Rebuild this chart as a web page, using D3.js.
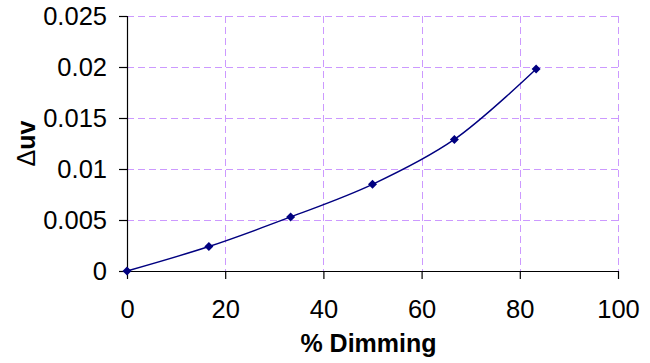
<!DOCTYPE html>
<html>
<head>
<meta charset="utf-8">
<script src="https://cdn.jsdelivr.net/npm/d3@7"></script>
<style>
  html, body { margin: 0; padding: 0; background: #fff; }
  svg { display: block; font-family: Arial, "Liberation Sans", sans-serif; }
</style>
</head>
<body>
<svg id="chart" width="650" height="363"></svg>
<script>
// Colour shift (Δuv) against dimming level
const dimming = [0, 16.67, 33.33, 50, 66.67, 83.33];
const deltaUv = [0, 0.0024, 0.0053, 0.0085, 0.0129, 0.0198];
const xTicks = [0, 20, 40, 60, 80, 100];
const yTicks = [0, 0.005, 0.01, 0.015, 0.02, 0.025];
const yTickLabels = ["0", "0.005", "0.01", "0.015", "0.02", "0.025"];

const svg = d3.select("#chart");
const plotLeft = 127, plotRight = 618, plotTop = 16, plotBottom = 271;

const x = d3.scaleLinear().domain([0, 100]).range([plotLeft, plotRight]);
const y = d3.scaleLinear().domain([0, 0.025]).range([plotBottom, plotTop]);

// dashed gridlines
const grid = svg.append("g")
  .attr("stroke", "#cc99ff")
  .attr("stroke-width", 1)
  .attr("stroke-dasharray", "7,4")
  .attr("fill", "none");
grid.selectAll(".h").data(yTicks.filter(d => d > 0)).enter().append("line")
  .attr("x1", plotLeft).attr("x2", plotRight)
  .attr("y1", d => Math.round(y(d)) + 0.5).attr("y2", d => Math.round(y(d)) + 0.5);
grid.selectAll(".v").data(xTicks.filter(d => d > 0)).enter().append("line")
  .attr("y1", plotTop).attr("y2", plotBottom)
  .attr("x1", d => Math.round(x(d)) + 0.5).attr("x2", d => Math.round(x(d)) + 0.5);

// axes
const xAxis = d3.axisBottom(x).tickValues(xTicks).tickSize(8).tickPadding(21)
  .tickFormat(d3.format("d"));
const yAxis = d3.axisLeft(y).tickValues(yTicks).tickSize(8).tickPadding(12)
  .tickFormat((d, i) => yTickLabels[i]);

const gx = svg.append("g").attr("transform", `translate(0,${plotBottom})`).call(xAxis);
const gy = svg.append("g").attr("transform", `translate(${plotLeft},0)`).call(yAxis);

[gx, gy].forEach(g => {
  g.select(".domain").attr("stroke", "#000").attr("stroke-width", 1.2);
  g.selectAll(".tick line").attr("stroke", "#000").attr("stroke-width", 1.2);
  g.selectAll(".tick text")
    .attr("fill", "#000")
    .style("font-family", "Arial, 'Liberation Sans', sans-serif")
    .style("font-size", "25.5px");
});
gx.select(".domain").attr("d", `M${plotLeft},0.5H${plotRight}`);
gy.select(".domain").attr("d", `M0.5,${plotBottom}V${plotTop}`);

// axis titles
svg.append("text")
  .attr("x", (plotLeft + plotRight) / 2 - 4)
  .attr("y", 352)
  .attr("text-anchor", "middle")
  .style("font-size", "25px")
  .style("font-weight", "bold")
  .text("% Dimming");

const yTitle = svg.append("text")
  .attr("transform", `translate(35,${(plotTop + plotBottom) / 2}) rotate(-90)`)
  .attr("text-anchor", "middle")
  .style("font-size", "25px")
  .style("font-weight", "bold");
yTitle.append("tspan").style("font-weight", "normal").text("Δ");
yTitle.append("tspan").text("uv");

// smoothed data line
const pts = dimming.map((d, i) => [d, deltaUv[i]]);
const line = d3.line()
  .x(d => x(d[0]))
  .y(d => y(d[1]))
  .curve(d3.curveCatmullRom.alpha(0.5));

svg.append("path")
  .datum(pts)
  .attr("fill", "none")
  .attr("stroke", "#000080")
  .attr("stroke-width", 1.4)
  .attr("d", line);

// diamond markers
svg.append("g").selectAll("path").data(pts).enter().append("path")
  .attr("transform", d => `translate(${x(d[0])},${y(d[1])})`)
  .attr("d", "M0,-4.5L4.5,0L0,4.5L-4.5,0Z")
  .attr("fill", "#000080");
</script>
</body>
</html>
